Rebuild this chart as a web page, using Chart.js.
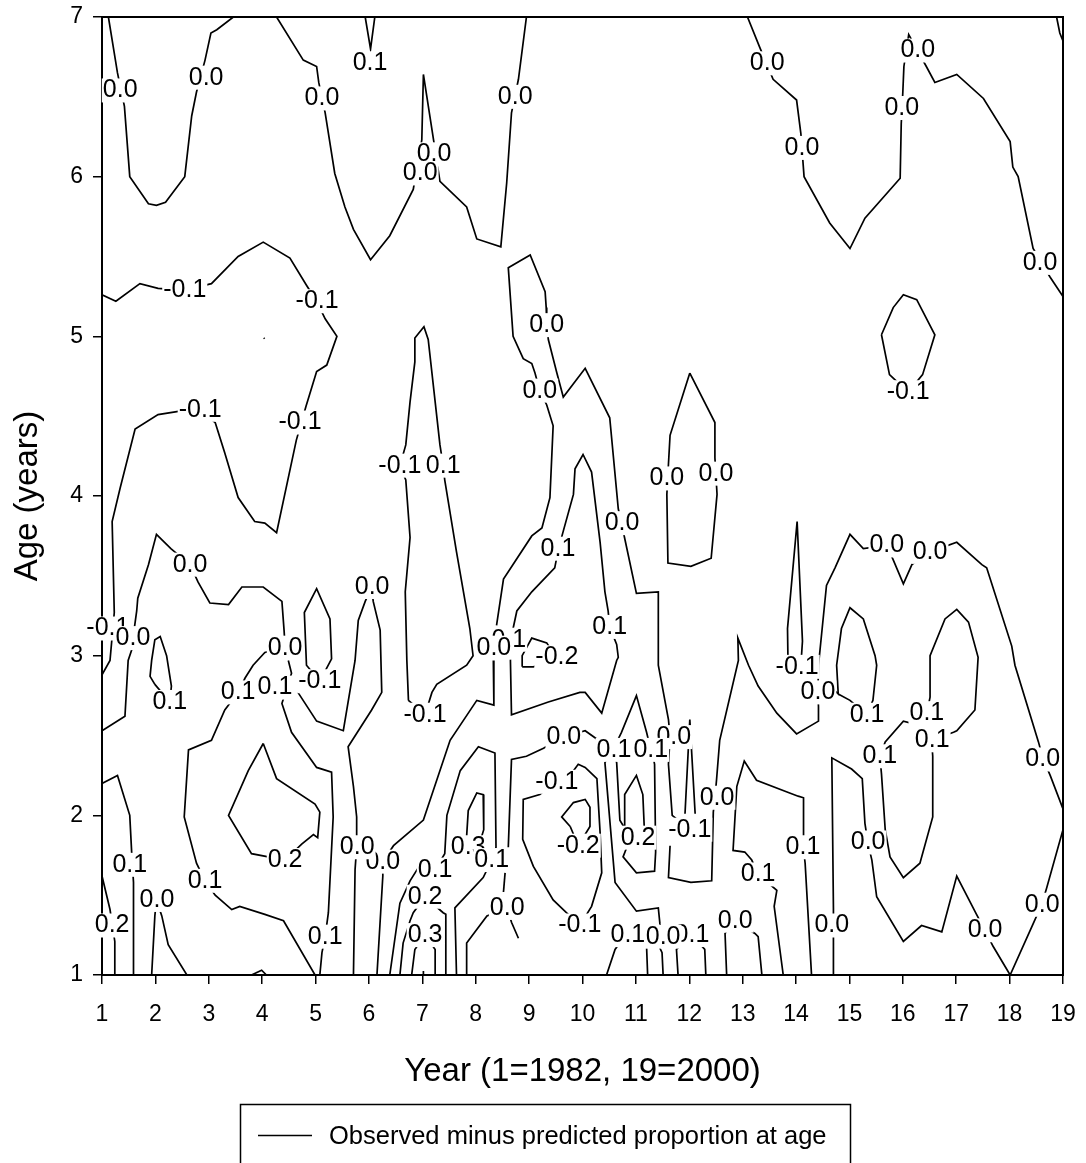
<!DOCTYPE html>
<html>
<head>
<meta charset="utf-8">
<script src="https://cdn.jsdelivr.net/npm/chart.js@4.4.0/dist/chart.umd.min.js"></script>
<style>
  html, body { margin: 0; padding: 0; background: #fff; }
</style>
</head>
<body>
<canvas id="chart" width="1086" height="1163"></canvas>
<script>
// contour traces, each point is [year, age]
const topLeftTrough = [[1.12,7.0],[1.29,6.65],[1.42,6.44],[1.52,6.0],[1.87,5.83],[2.02,5.82],[2.19,5.84],[2.55,6.0],[2.68,6.38],[2.77,6.53],[2.93,6.73],[3.04,6.9],[3.15,6.92],[3.46,7.0]];
const topMidTrough = [[4.27,7.0],[4.77,6.73],[5.02,6.69],[5.06,6.59],[5.18,6.40],[5.36,6.02],[5.55,5.81],[5.71,5.67],[6.03,5.48],[6.39,5.63],[6.83,5.92],[6.99,6.23],[7.02,6.64],[7.21,6.23],[7.33,5.97],[7.83,5.81],[8.02,5.61],[8.47,5.56],[8.58,5.96],[8.67,6.40],[8.80,6.61],[8.95,7.0]];
const topSpike = [[5.93,7.0],[6.03,6.80],[6.11,7.0]];
const topRightLine = [[13.09,7.0],[13.32,6.81],[13.57,6.61],[14.01,6.48],[14.09,6.27],[14.15,6.0],[14.63,5.71],[15.01,5.55],[15.29,5.74],[15.95,5.99],[15.97,6.33],[16.00,6.53],[16.02,6.69],[16.11,6.89],[16.44,6.69],[16.60,6.59],[17.01,6.64],[17.51,6.49],[18.01,6.22],[18.06,6.06],[18.16,6.0],[18.44,5.55],[18.76,5.37],[19.0,5.25]];
const topRightCorner = [[18.88,7.0],[18.94,6.90],[19.0,6.85]];
const upperBand = [[1.0,5.26],[1.26,5.22],[1.71,5.33],[2.05,5.30],[2.55,5.29],[3.05,5.33],[3.55,5.50],[4.02,5.59],[4.52,5.49],[4.83,5.32],[5.02,5.22],[5.18,5.11],[5.40,5.00],[5.21,4.82],[5.02,4.78],[4.82,4.56],[4.64,4.35],[4.27,3.77],[4.05,3.83],[3.86,3.84],[3.55,3.99],[3.30,4.27],[3.12,4.46],[2.83,4.54],[2.43,4.53],[2.05,4.51],[1.62,4.42],[1.34,4.05],[1.19,3.84],[1.23,3.27],[1.15,2.97],[1.0,2.88]];
const upperDot = [[4.03,4.99],[4.045,4.985]];
const rightNegLoop = [[15.60,5.01],[15.82,5.18],[16.01,5.26],[16.26,5.23],[16.60,5.01],[16.37,4.76],[16.10,4.65],[15.75,4.76],[15.60,5.01]];
const leftWave = [[1.0,2.53],[1.43,2.62],[1.49,2.97],[1.56,3.04],[1.58,3.11],[1.65,3.28],[1.67,3.36],[1.87,3.57],[2.02,3.76],[2.29,3.67],[2.65,3.57],[2.80,3.46],[3.02,3.33],[3.37,3.32],[3.62,3.43],[4.02,3.43],[4.37,3.34],[4.41,3.16],[4.43,3.05],[4.05,3.02],[3.83,2.94],[3.68,2.86],[3.55,2.77],[3.30,2.66],[3.05,2.47],[2.62,2.41],[2.54,1.99],[2.77,1.70],[2.93,1.59],[3.12,1.50],[3.43,1.41],[3.58,1.43],[4.05,1.38],[4.40,1.34],[4.99,1.0]];
const leftSmallLoop = [[1.99,2.82],[1.90,2.87],[1.93,2.97],[1.99,3.10],[2.09,3.12],[2.21,3.00],[2.30,2.81],[2.27,2.71],[1.99,2.82]];
const leftEdge01 = [[1.0,2.20],[1.29,2.25],[1.52,2.00],[1.56,1.74],[1.59,1.58],[1.59,1.0]];
const leftEdge02 = [[1.0,1.62],[1.15,1.41],[1.24,1.21],[1.24,1.0]];
const leftBottom00 = [[1.93,1.0],[1.99,1.37],[2.02,1.47],[2.12,1.37],[2.24,1.19],[2.59,1.0]];
const leftLoop02 = [[4.02,2.45],[4.27,2.23],[4.99,2.07],[5.08,2.02],[5.04,1.86],[4.96,1.88],[4.74,1.82],[4.43,1.72],[3.80,1.76],[3.37,2.00],[3.74,2.28],[4.02,2.45]];
const tinyBump = [[3.80,1.0],[3.99,1.03],[4.08,1.0]];
const narrowNegLoop = [[5.08,2.84],[4.83,2.94],[4.79,3.27],[5.02,3.42],[5.27,3.23],[5.30,2.98],[5.08,2.84]];
const midWave = [[4.67,2.77],[5.02,2.59],[5.52,2.53],[5.74,2.97],[5.80,3.22],[5.93,3.34],[6.05,3.43],[6.08,3.34],[6.21,3.16],[6.24,2.77],[6.05,2.66],[5.61,2.43],[5.71,2.18],[5.77,1.99],[5.77,1.80],[5.74,1.66],[5.71,1.0]];
const midLine01 = [[4.49,2.97],[4.55,2.89],[4.37,2.70],[4.55,2.52],[5.02,2.30],[5.30,2.27],[5.33,1.99],[5.24,1.39],[5.18,1.24],[5.12,1.14],[5.08,1.0]];
const tallSpike = [[6.74,2.72],[6.71,2.97],[6.68,3.40],[6.77,3.74],[6.69,4.10],[6.58,4.19],[6.69,4.32],[6.77,4.59],[6.86,4.84],[6.86,4.99],[7.03,5.06],[7.11,4.98],[7.33,4.32],[7.39,4.19],[7.42,4.10],[7.64,3.65],[7.89,3.17],[7.95,3.00],[7.83,2.94],[7.27,2.82],[7.18,2.77],[7.05,2.63],[6.74,2.72]];
const finger00 = [[8.39,3.19],[8.52,3.48],[9.05,3.75],[9.24,3.80],[9.39,3.99],[9.45,4.44],[9.33,4.57],[9.20,4.66],[9.11,4.77],[9.05,4.83],[8.89,4.86],[8.70,5.00],[8.61,5.43],[9.02,5.51],[9.30,5.28],[9.32,5.18],[9.33,5.07],[9.36,4.98],[9.52,4.77],[9.64,4.62],[10.05,4.80],[10.51,4.49],[10.67,3.92],[10.73,3.83],[10.80,3.72],[11.01,3.39],[11.42,3.40],[11.42,2.94],[11.61,2.60],[11.64,2.49],[11.61,2.32],[11.68,2.00],[12.01,1.91]];
const rightBand = [[11.64,1.81],[11.61,1.61],[12.03,1.58],[12.42,1.59],[12.45,2.02],[12.48,2.11],[12.51,2.22],[12.57,2.47],[12.92,2.97],[12.91,3.11],[13.11,2.94],[13.29,2.81],[13.64,2.64],[14.01,2.51],[14.42,2.59],[14.42,2.68],[14.41,2.77],[14.42,2.94],[14.57,3.44],[14.73,3.55],[15.01,3.76],[15.26,3.67],[15.70,3.69],[15.82,3.60],[16.01,3.45],[16.17,3.57],[16.51,3.65],[17.01,3.71],[17.48,3.57],[17.57,3.55],[18.04,3.06],[18.10,2.94],[18.54,2.46],[18.63,2.35],[18.76,2.25],[19.0,2.04]];
const spikeYear12 = [[11.92,2.01],[12.01,2.60],[12.11,2.01]];
const spikeYear14 = [[13.85,2.94],[13.84,3.17],[14.02,3.84],[14.12,3.09],[14.09,2.94]];
const loop00 = [[12.01,4.77],[11.64,4.38],[11.61,4.20],[11.58,4.01],[11.60,3.58],[12.03,3.56],[12.41,3.61],[12.52,4.01],[12.48,4.24],[12.48,4.46],[12.01,4.77]];
const loop01 = [[8.70,3.17],[8.77,3.28],[9.05,3.40],[9.48,3.55],[9.55,3.67],[9.64,3.78],[9.83,4.01],[9.86,4.17],[10.01,4.26],[10.17,4.15],[10.33,3.71],[10.42,3.40],[10.48,3.28],[10.51,3.18],[10.64,3.07],[10.67,2.99],[10.64,2.97],[10.36,2.64],[10.05,2.77],[9.95,2.77],[9.36,2.71],[8.67,2.63],[8.65,2.97],[8.70,3.17]];
const smallNeg02 = [[8.87,2.93],[8.87,3.00],[9.05,3.11],[9.33,3.08],[9.52,2.98],[9.08,2.93],[8.87,2.93]];
const diagonal00 = [[8.33,2.97],[8.34,2.69],[8.02,2.72],[7.52,2.47],[7.02,1.97],[6.46,1.81],[6.26,1.71],[6.26,1.62],[6.15,1.0]];
const nest01 = [[6.39,1.0],[6.58,1.45],[6.77,1.59],[6.92,1.67],[7.24,1.66],[7.42,1.76],[7.46,2.00],[7.71,2.28],[8.05,2.43],[8.36,2.39],[8.38,1.80],[8.30,1.72],[8.14,1.61],[7.61,1.42],[7.64,1.0]];
const nest02 = [[6.58,1.0],[6.64,1.20],[6.77,1.34],[6.83,1.39],[7.05,1.49],[7.39,1.39],[7.44,1.38],[7.44,1.0]];
const nest03 = [[6.80,1.0],[6.86,1.16],[7.05,1.25],[7.24,1.16],[7.24,1.0]];
const bottomDot = [[7.02,1.0],[7.02,1.025]];
const inner03 = [[7.83,1.80],[7.83,1.87],[7.86,2.03],[8.02,2.14],[8.14,2.13],[8.15,1.91],[8.05,1.80]];
const open00 = [[7.83,1.0],[7.83,1.20],[8.21,1.37],[8.59,1.42],[8.67,1.33],[8.80,1.23]];
const shortTick = [[8.55,1.64],[8.52,1.52]];
const riseTo00 = [[8.61,1.80],[8.67,2.35],[8.95,2.37],[9.27,2.42],[9.63,2.49],[10.05,2.53],[10.30,2.47],[10.57,2.41]];
const negLoop01 = [[9.51,2.21],[9.20,2.13],[8.89,2.10],[8.88,1.85],[9.08,1.68],[9.45,1.47],[9.64,1.41],[9.95,1.31],[10.17,1.43],[10.36,1.64],[10.33,1.89],[10.27,2.23],[10.05,2.30],[9.92,2.32],[9.70,2.22]];
const negLoop02 = [[9.77,1.93],[9.61,1.99],[9.83,2.08],[10.05,2.10],[10.14,2.05],[10.14,1.93],[9.92,1.81],[9.77,1.93]];
const spikeYear11 = [[10.57,2.41],[10.73,2.52],[11.01,2.75],[11.20,2.52],[11.28,2.41]];
const dropTo00 = [[10.57,2.41],[10.42,2.33],[10.61,1.58],[11.01,1.40],[11.42,1.42],[11.45,1.32],[11.51,1.24]];
const loop02b = [[10.57,2.41],[10.64,2.33],[10.70,1.97],[10.90,1.86],[10.76,1.74],[11.01,1.64],[11.35,1.65],[11.37,1.77],[11.35,2.32],[11.30,2.41]];
const spike02 = [[10.79,1.90],[10.79,2.13],[11.01,2.25],[11.13,2.13],[11.16,1.90]];
const foot01a = [[10.45,1.0],[10.61,1.16],[10.80,1.25]];
const foot00a = [[11.22,1.0],[11.20,1.18],[11.35,1.24],[11.49,1.14],[11.51,1.0]];
const foot01b = [[11.79,1.0],[11.76,1.16],[12.05,1.25],[12.29,1.16],[12.31,1.0]];
const foot00b = [[12.70,1.0],[12.67,1.26],[12.82,1.34],[13.23,1.26],[13.29,1.24],[13.36,1.0]];
const arch01 = [[13.76,1.0],[13.59,1.43],[13.64,1.53],[13.29,1.63],[13.17,1.72],[13.04,1.77],[12.82,1.78],[12.89,2.18],[13.03,2.34],[13.26,2.22],[13.88,2.14],[14.04,2.12],[14.14,2.11],[14.14,1.79],[14.17,1.70],[14.29,1.0]];
const bottomRight00 = [[14.70,1.0],[14.70,1.22],[14.70,1.42],[14.67,2.36],[15.04,2.29],[15.24,2.23],[15.29,1.95],[15.35,1.82],[15.42,1.72],[15.51,1.49],[16.01,1.21],[16.35,1.31],[16.73,1.27],[17.01,1.62],[17.38,1.38],[17.54,1.28],[17.69,1.18],[18.01,1.0],[18.44,1.32],[18.60,1.44],[18.69,1.54],[19.0,1.91]];
const loop01c = [[14.63,2.81],[14.79,2.76],[14.76,2.94],[14.85,3.17],[15.01,3.30],[15.26,3.23],[15.48,3.00],[15.51,2.94],[15.44,2.72],[15.32,2.63],[15.01,2.72],[14.79,2.76]];
const nestRight01 = [[16.51,2.74],[16.51,3.00],[16.79,3.23],[17.01,3.29],[17.23,3.21],[17.41,2.99],[17.35,2.66],[17.01,2.53],[16.95,2.52],[16.54,2.47],[16.56,2.37],[16.56,1.99],[16.32,1.70],[16.01,1.61],[15.76,1.74],[15.67,1.91],[15.60,2.26],[15.57,2.37],[15.67,2.46],[16.01,2.59],[16.13,2.58],[16.45,2.64],[16.51,2.74]];

const contourLines = [
  topLeftTrough, topMidTrough, topSpike, topRightLine, topRightCorner, upperBand, upperDot,
  rightNegLoop, leftWave, leftSmallLoop, leftEdge01, leftEdge02, leftBottom00, leftLoop02,
  tinyBump, narrowNegLoop, midWave, midLine01, tallSpike, finger00, rightBand, spikeYear12,
  spikeYear14, loop00, loop01, smallNeg02, diagonal00, nest01, nest02, nest03, bottomDot,
  inner03, open00, shortTick, riseTo00, negLoop01, negLoop02, spikeYear11, dropTo00, loop02b,
  spike02, foot01a, foot00a, foot01b, foot00b, arch01, bottomRight00, loop01c, nestRight01
];

// contour labels, in drawing order (later ones sit on top)
const labelText = ['0.0','0.0','0.0','0.1','0.0','0.0','0.0','0.0','0.0','0.0','0.0','0.0',
  '-0.1','-0.1','0.0','0.0','-0.1','-0.1','-0.1','-0.1','0.1','0.0','0.0','0.0','0.1','0.0','0.0',
  '0.0','0.0','0.1','-0.1','0.0','0.0','0.1','0.0','-0.2','0.1','0.1','0.1','-0.1','-0.1',
  '-0.1','0.0','0.1','0.1','0.1','0.1','0.0','0.0','0.1','0.1','0.0','-0.1','0.0','-0.1','0.2',
  '-0.2','0.1','0.0','0.2','0.0','0.0','0.1','0.3','0.1','0.1','0.1','0.1','0.2','0.0','0.0',
  '0.0','0.1','0.3','0.2','-0.1','0.1','0.0','0.1','0.0','0.0','0.0'];
const labelYear = [1.34,2.95,5.12,6.02,7.22,6.96,8.74,13.46,16.28,15.98,14.11,18.57,
  2.55,5.03,9.33,9.20,16.10,2.84,4.71,6.58,7.39,11.58,12.50,10.74,9.54,15.70,16.51,
  2.65,6.06,10.51,1.11,1.58,4.43,8.62,8.34,9.52,2.27,3.55,4.24,5.08,7.05,
  14.02,14.41,15.33,16.45,16.55,15.57,9.65,11.71,11.28,10.59,18.62,9.52,12.52,12.01,11.04,
  9.92,14.13,15.35,4.43,6.26,5.78,7.24,7.86,8.30,1.52,2.93,13.29,7.05,2.03,8.59,
  18.61,5.18,7.05,1.19,9.95,12.05,11.51,10.85,12.86,14.67,17.54];
const labelAge = [6.54,6.62,6.49,6.71,6.14,6.02,6.50,6.71,6.79,6.43,6.18,5.46,
  5.29,5.22,5.07,4.66,4.65,4.54,4.46,4.19,4.19,4.11,4.14,3.83,3.67,3.69,3.65,
  3.57,3.43,3.18,3.17,3.11,3.05,3.10,3.05,2.99,2.71,2.77,2.80,2.84,2.63,
  2.93,2.77,2.63,2.64,2.47,2.37,2.49,2.49,2.41,2.41,2.35,2.21,2.11,1.91,1.86,
  1.81,1.80,1.83,1.72,1.71,1.80,1.66,1.80,1.72,1.69,1.59,1.63,1.49,1.47,1.42,
  1.44,1.24,1.25,1.31,1.31,1.25,1.24,1.25,1.34,1.31,1.28];

const yearTicks = [1,2,3,4,5,6,7,8,9,10,11,12,13,14,15,16,17,18,19];
const ageTicks = [1,2,3,4,5,6,7];
const legendLabel = 'Observed minus predicted proportion at age';

const FONT = '"Liberation Sans", Arial, sans-serif';

const datasets = contourLines.map(line => ({
  data: line.map(([x, y]) => ({ x, y })),
  showLine: true,
  borderColor: '#000',
  borderWidth: 1.7,
  pointRadius: 0,
  pointHoverRadius: 0,
  fill: false,
  tension: 0
}));

// keep tick label overhang from nudging the plot area
const fixBox = size => s => {
  if (s.isHorizontal()) s.height = size; else s.width = size;
  s.paddingTop = 0; s.paddingBottom = 0; s.paddingLeft = 0; s.paddingRight = 0;
};

const overlayPlugin = {
  id: 'overlay',
  afterDraw(chart) {
    const { ctx, chartArea: a, scales: { x, y } } = chart;
    ctx.save();
    ctx.strokeStyle = '#000';
    ctx.lineWidth = 2;
    ctx.strokeRect(a.left, a.top, a.right - a.left, a.bottom - a.top);

    ctx.font = '25px ' + FONT;
    ctx.textAlign = 'center';
    ctx.textBaseline = 'middle';
    labelText.forEach((t, i) => {
      const px = x.getPixelForValue(labelYear[i]);
      const py = y.getPixelForValue(labelAge[i]);
      const w = ctx.measureText(t).width;
      ctx.fillStyle = '#fff';
      ctx.fillRect(px - w / 2 - 1, py - 12, w + 2, 24);
      ctx.fillStyle = '#000';
      ctx.fillText(t, px, py);
    });

    // legend box
    ctx.lineWidth = 1.5;
    ctx.strokeRect(240.5, 1104.5, 610, 70);
    ctx.beginPath();
    ctx.moveTo(258, 1135.5);
    ctx.lineTo(312, 1135.5);
    ctx.stroke();
    ctx.font = '25.5px ' + FONT;
    ctx.textAlign = 'left';
    ctx.fillStyle = '#000';
    ctx.fillText(legendLabel, 329, 1137);
    ctx.restore();
  }
};

new Chart(document.getElementById('chart'), {
  type: 'scatter',
  data: { datasets },
  options: {
    responsive: false,
    animation: false,
    devicePixelRatio: 1,
    layout: { padding: { left: 0, right: 23, top: 17, bottom: 71 } },
    plugins: { legend: { display: false }, tooltip: { enabled: false } },
    scales: {
      x: {
        type: 'linear',
        min: yearTicks[0],
        max: yearTicks[yearTicks.length - 1],
        afterBuildTicks: s => { s.ticks = yearTicks.map(v => ({ value: v })); },
        afterFit: fixBox(117),
        grid: { drawOnChartArea: false, drawTicks: true, tickLength: 9, color: '#000', lineWidth: 1.5 },
        border: { display: true, color: '#000', width: 2 },
        ticks: { color: '#000', font: { family: FONT, size: 23 }, padding: 17, maxRotation: 0 },
        title: { display: true, text: 'Year (1=1982, 19=2000)', color: '#000', font: { family: FONT, size: 33 }, padding: { top: 0, bottom: 0 } }
      },
      y: {
        type: 'linear',
        min: ageTicks[0],
        max: ageTicks[ageTicks.length - 1],
        afterBuildTicks: s => { s.ticks = ageTicks.map(v => ({ value: v })); },
        afterFit: fixBox(102),
        grid: { drawOnChartArea: false, drawTicks: true, tickLength: 9, color: '#000', lineWidth: 1.5 },
        border: { display: true, color: '#000', width: 2 },
        ticks: { color: '#000', font: { family: FONT, size: 23 }, padding: 10 },
        title: { display: true, text: 'Age (years)', color: '#000', font: { family: FONT, size: 33 }, padding: { top: 8, bottom: 0 } }
      }
    }
  },
  plugins: [overlayPlugin]
});
</script>
</body>
</html>
